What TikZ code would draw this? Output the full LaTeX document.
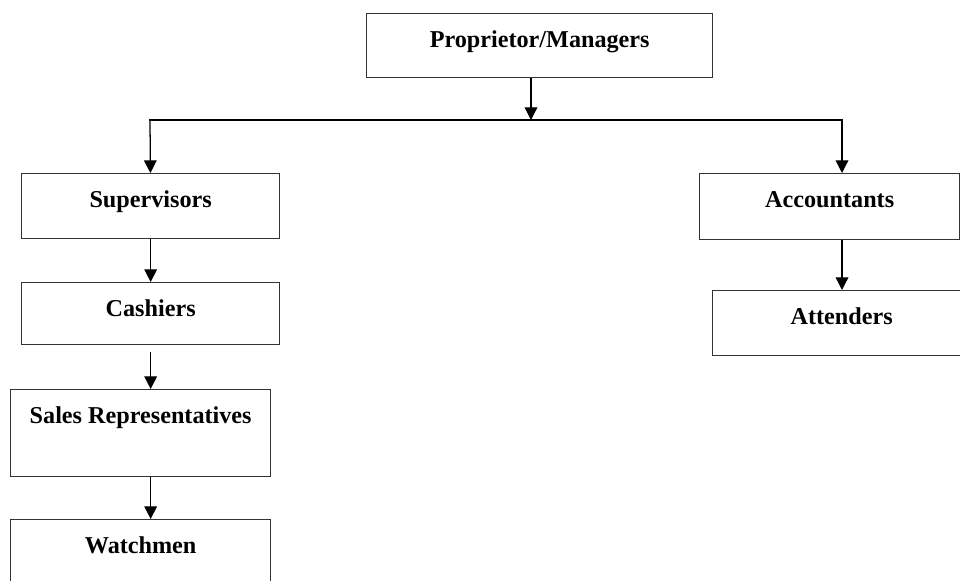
\documentclass[tikz,border=0pt]{standalone}
\usepackage{fontspec}
\setmainfont{Liberation Serif}
\usepackage{tikz}
\usetikzlibrary{arrows.meta, positioning}

\tikzset{
    unit/.style={draw=black!80, line width=0.9pt, anchor=north west, inner ysep=0pt,
        text height=0.85cm, minimum width=6.5cm,
        font=\bfseries\fontsize{17.2}{20}\selectfont},
    link/.style={-{Triangle[width=9pt,length=9pt]}, line width=0.9pt},
}

\begin{document}
\begin{tikzpicture}[x=0.025cm, y=-0.025cm]
    \useasboundingbox (0,0) rectangle (960,580);
    % boxes
    \node[unit, minimum width=8.65cm, text depth=0.75cm] (boss) at (366,13) {Proprietor/Managers};
    \node[unit, minimum width=6.45cm, text depth=0.78cm] (sup) at (21,173) {Supervisors};
    \node[unit, minimum width=6.45cm, text depth=0.7cm] (cash) at (21,282) {Cashiers};
    \node[unit, text depth=1.33cm] (sales) at (10,389) {Sales Representatives};
    \node[unit, text depth=1.2cm] (watch) at (10,519) {Watchmen};
    \node[unit, text depth=0.8cm] (acc) at (699,173) {Accountants};
    \node[unit, minimum width=6.45cm, text depth=0.78cm] (att) at (712,290) {Attenders};
    % connectors
    \coordinate (split) at (531,120);
    \coordinate (lsplit) at (150,120);
    \coordinate (rsplit) at (842,120);
    \draw[line width=0.9pt, line cap=rect] (lsplit) -- (rsplit);
    \draw[link] (boss.south -| split) -- (split);
    \draw[link] (lsplit) -- (sup);
    \draw[link] (rsplit) -- (rsplit |- acc.north);
    \draw[link] (sup) -- (cash);
    \draw[link, shorten <=0.18cm] (cash.south) -- (cash.south |- sales.north);
    \draw[link] (cash.south |- sales.south) -- (cash.south |- watch.north);
    \draw[link] (rsplit |- acc.south) -- (rsplit |- att.north);
\end{tikzpicture}
\end{document}
